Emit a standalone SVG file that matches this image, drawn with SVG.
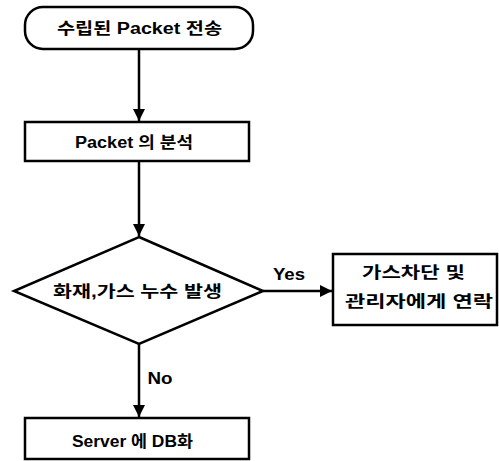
<svg xmlns="http://www.w3.org/2000/svg" width="499" height="461" viewBox="0 0 499 461">
<defs>
<style>
.shape{fill:#fff;stroke:#000;stroke-width:2.5}
.line{fill:none;stroke:#000;stroke-width:2.5}
text{font-family:"Liberation Sans","Noto Sans CJK KR",sans-serif;font-weight:bold;font-size:16px;fill:#000;text-anchor:middle;dominant-baseline:central}
</style>
<marker id="arr" viewBox="0 0 10 10" refX="10" refY="5" markerWidth="5" markerHeight="5" orient="auto" markerUnits="strokeWidth">
<path d="M0,0 L10,5 L0,10 Z" fill="#000"/>
</marker>
</defs>
<rect width="499" height="461" fill="#fff"/>
<g id="connectors">
<line class="line" x1="139" y1="50" x2="139" y2="121" marker-end="url(#arr)"/>
<line class="line" x1="139" y1="162" x2="139" y2="236" marker-end="url(#arr)"/>
<line class="line" x1="263" y1="291" x2="332" y2="291" marker-end="url(#arr)"/>
<line class="line" x1="139" y1="344" x2="139" y2="417" marker-end="url(#arr)"/>
<text x="289" y="274" textLength="32" lengthAdjust="spacingAndGlyphs">Yes</text>
<text x="160" y="378" textLength="25" lengthAdjust="spacingAndGlyphs">No</text>
</g>
<g id="start">
<rect class="shape" x="25" y="7" width="228" height="42" rx="18" ry="18"/>
<text x="139.5" y="28" textLength="165" lengthAdjust="spacingAndGlyphs">수립된 Packet 전송</text>
</g>
<g id="analyze">
<rect class="shape" x="25" y="122" width="224" height="39"/>
<text x="134" y="142" textLength="118" lengthAdjust="spacingAndGlyphs">Packet 의 분석</text>
</g>
<g id="decision">
<polygon class="shape" points="139,237 263,291 139,344 14,291"/>
<text x="137.5" y="291" textLength="169" lengthAdjust="spacingAndGlyphs">화재,가스 누수 발생</text>
</g>
<g id="alert">
<rect class="shape" x="333" y="254" width="164" height="71"/>
<text x="413.5" y="272" textLength="103" lengthAdjust="spacingAndGlyphs">가스차단 및</text>
<text x="419" y="301" textLength="148" lengthAdjust="spacingAndGlyphs">관리자에게 연락</text>
</g>
<g id="db">
<rect class="shape" x="25" y="418" width="224" height="41"/>
<text x="132.5" y="441" textLength="121" lengthAdjust="spacingAndGlyphs">Server 에 DB화</text>
</g>
</svg>
